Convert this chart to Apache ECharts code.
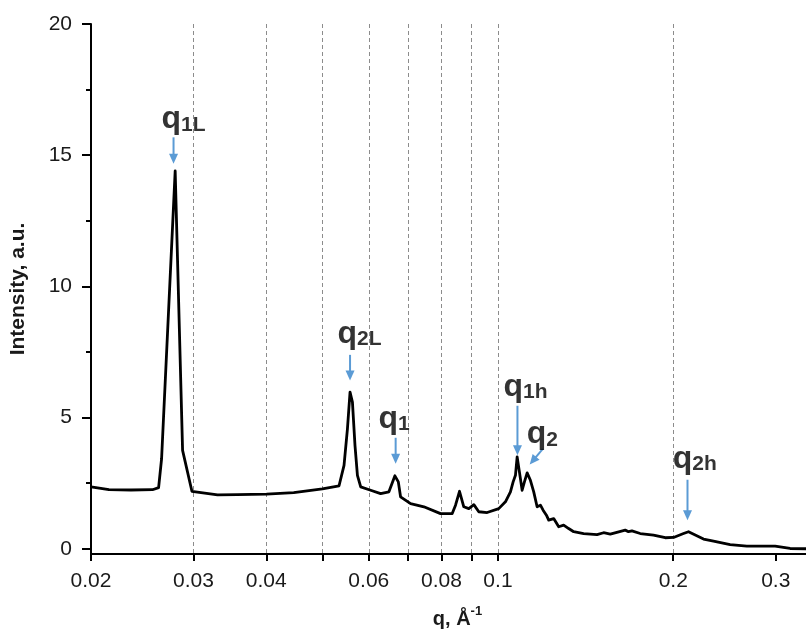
<!DOCTYPE html>
<html><head><meta charset="utf-8">
<script src="https://cdn.jsdelivr.net/npm/echarts@6/dist/echarts.min.js"></script>
<style>html,body{margin:0;padding:0;background:#fff}#c{width:806px;height:634px}</style>
</head><body><div id="c"></div>
<script>
// ---- data ----
const qValues = [0.02, 0.02147, 0.02342, 0.02551, 0.02613, 0.02644, 0.0279, 0.02873, 0.02981, 0.03299, 0.03569, 0.04003, 0.04459, 0.04994, 0.05334, 0.0544, 0.05514, 0.05571, 0.05624, 0.05681, 0.05736, 0.05811, 0.06044, 0.06287, 0.06497, 0.06653, 0.06743, 0.06803, 0.07078, 0.0746, 0.07968, 0.08345, 0.08455, 0.08589, 0.08736, 0.08911, 0.0909, 0.09269, 0.09581, 0.10031, 0.103, 0.10506, 0.10618, 0.10716, 0.10788, 0.10885, 0.11003, 0.11103, 0.11223, 0.11369, 0.11519, 0.11674, 0.11829, 0.11955, 0.12112, 0.12222, 0.12466, 0.12715, 0.12967, 0.13226, 0.13491, 0.14033, 0.14796, 0.15185, 0.15592, 0.16542, 0.16757, 0.16986, 0.17552, 0.18498, 0.19379, 0.20023, 0.20831, 0.21244, 0.22544, 0.23454, 0.25046, 0.2676, 0.29924, 0.31746, 0.33812, 0.3632];
const intensity = [2.36, 2.25, 2.24, 2.25, 2.33, 3.43, 14.40, 3.75, 2.19, 2.05, 2.06, 2.08, 2.14, 2.28, 2.40, 3.18, 4.57, 5.97, 5.59, 3.94, 2.80, 2.36, 2.23, 2.10, 2.17, 2.78, 2.55, 1.98, 1.72, 1.60, 1.34, 1.34, 1.66, 2.19, 1.60, 1.53, 1.68, 1.41, 1.38, 1.53, 1.79, 2.17, 2.55, 2.80, 3.50, 2.93, 2.23, 2.55, 2.89, 2.61, 2.17, 1.60, 1.66, 1.47, 1.28, 1.09, 1.15, 0.84, 0.90, 0.77, 0.65, 0.58, 0.54, 0.61, 0.56, 0.71, 0.65, 0.68, 0.58, 0.52, 0.42, 0.43, 0.58, 0.65, 0.37, 0.29, 0.16, 0.10, 0.10, 0.01, 0.0, -0.02];

const xTickValues = [0.02, 0.03, 0.04, 0.05, 0.06, 0.07, 0.08, 0.09, 0.1, 0.2, 0.3];
const xLabelValues = [0.02, 0.03, 0.04, 0.06, 0.08, 0.1, 0.2, 0.3];
const yLabelValues = [0, 5, 10, 15, 20];
const yMinorValues = [2.5, 7.5, 12.5, 17.5];

const peakNames = ['1L', '2L', '1', '1h', '2', '2h'];
const labelQ = [0.02884, 0.05782, 0.06631, 0.11147, 0.11922, 0.21772];
const labelY = [16.36, 8.19, 4.94, 6.17, 4.35, 3.43];
const arrowFromQ = [0.02772, 0.05571, 0.06672, 0.10801, 0.1194, 0.2116];
const arrowFromY = [15.68, 7.39, 4.23, 5.45, 3.81, 2.63];
const arrowToQ = [0.02772, 0.05571, 0.06672, 0.10801, 0.11337, 0.2116];
const arrowToY = [14.67, 6.41, 3.24, 3.56, 3.21, 1.09];

const X_MIN = 0.02, X_MAX = 0.3381, Y_MIN = -0.2, Y_MAX = 20;

// ---- chart ----
const FONT = '"Liberation Sans", Arial, sans-serif';
const BLUE = '#5b9bd5';
const chart = echarts.init(document.getElementById('c'), null, {renderer: 'canvas'});

const lg = v => Math.log10(v);
const fmtLog = v => {
  let best = xLabelValues[0];
  xLabelValues.forEach(t => { if (Math.abs(Math.log10(t) - v) < Math.abs(Math.log10(best) - v)) best = t; });
  return String(best);
};

const option = {
  animation: false,
  backgroundColor: '#fff',
  textStyle: {fontFamily: FONT},
  grid: {left: 90, top: 24, right: 0, bottom: 78, containLabel: false},
  xAxis: [
    {type: 'log', logBase: 10, min: X_MIN, max: X_MAX, show: false, position: 'bottom'},
    {
      type: 'value', position: 'bottom', min: lg(X_MIN), max: lg(X_MAX),
      axisLine: {show: true, onZero: false, lineStyle: {color: '#000', width: 2}},
      axisTick: {show: true, customValues: xTickValues.map(lg), length: 7, lineStyle: {color: '#000', width: 2}},
      axisLabel: {customValues: xLabelValues.map(lg), formatter: fmtLog, fontSize: 21, color: '#1a1a1a', margin: 17, fontFamily: FONT},
      splitLine: {show: true, showMinLine: false, showMaxLine: false, lineStyle: {color: '#8c8c8c', width: 1, type: [4, 3]}},
      name: '{a|q, Å}{b|-1}', nameLocation: 'middle', nameGap: 51,
      nameTextStyle: {
        padding: [0, 0, 0, 18],
        rich: {
          a: {fontSize: 20, fontWeight: 'bold', color: '#1a1a1a', fontFamily: FONT, lineHeight: 24, verticalAlign: 'bottom'},
          b: {fontSize: 13, fontWeight: 'bold', color: '#1a1a1a', fontFamily: FONT, lineHeight: 13, verticalAlign: 'top'}
        }
      }
    }
  ],
  yAxis: [
    {
      type: 'value', min: Y_MIN, max: Y_MAX, position: 'left',
      axisLine: {show: true, onZero: false, lineStyle: {color: '#000', width: 2}},
      axisTick: {show: true, customValues: yLabelValues, length: 9, lineStyle: {color: '#000', width: 2}},
      axisLabel: {customValues: yLabelValues, fontSize: 21, color: '#1a1a1a', margin: 19, fontFamily: FONT},
      splitLine: {show: false},
      name: 'Intensity, a.u.', nameLocation: 'middle', nameGap: 62,
      nameTextStyle: {fontSize: 21, fontWeight: 'bold', color: '#1a1a1a', fontFamily: FONT}
    },
    {
      type: 'value', min: Y_MIN, max: Y_MAX, position: 'left',
      axisLine: {show: false},
      axisTick: {show: true, customValues: yMinorValues, length: 5, lineStyle: {color: '#000', width: 2}},
      axisLabel: {show: false},
      splitLine: {show: false}
    }
  ],
  series: [
    {
      type: 'line', xAxisIndex: 0, yAxisIndex: 0,
      data: qValues.map((q, i) => [q, intensity[i]]),
      showSymbol: false, symbol: 'none', smooth: false,
      lineStyle: {color: '#000', width: 2.8, join: 'round'},
      z: 3
    },
    {
      type: 'custom', xAxisIndex: 0, yAxisIndex: 0,
      data: arrowFromQ.map((q, i) => [q, arrowFromY[i], arrowToQ[i], arrowToY[i]]),
      encode: {x: [0, 2], y: [1, 3]},
      renderItem: function (params, api) {
        const p1 = api.coord([api.value(0), api.value(1)]);
        const p2 = api.coord([api.value(2), api.value(3)]);
        const dx = p2[0] - p1[0], dy = p2[1] - p1[1];
        const len = Math.hypot(dx, dy) || 1;
        const ux = dx / len, uy = dy / len;
        const headL = 10, headW = 4.5;
        const bx = p2[0] - ux * headL, by = p2[1] - uy * headL;
        return {
          type: 'group',
          children: [
            {type: 'line', shape: {x1: p1[0], y1: p1[1], x2: bx + ux, y2: by + uy}, style: {stroke: BLUE, lineWidth: 2}},
            {type: 'polygon', shape: {points: [[p2[0], p2[1]], [bx - uy * headW, by + ux * headW], [bx + uy * headW, by - ux * headW]]}, style: {fill: BLUE}}
          ]
        };
      },
      z: 4
    },
    {
      type: 'scatter', xAxisIndex: 0, yAxisIndex: 0,
      data: labelQ.map((q, i) => ({name: peakNames[i], value: [q, labelY[i]]})),
      symbolSize: 0,
      label: {
        show: true, position: 'inside', offset: [0, 0],
        formatter: p => '{q|q}{s|' + p.name + '}',
        rich: {
          q: {fontSize: 32, fontWeight: 'bold', color: '#000', fontFamily: FONT, lineHeight: 32, verticalAlign: 'bottom'},
          s: {fontSize: 21, fontWeight: 'bold', color: '#000', fontFamily: FONT, lineHeight: 12, verticalAlign: 'bottom'}
        }
      },
      z: 5
    }
  ]
};
chart.setOption(option);
</script>
</body></html>
